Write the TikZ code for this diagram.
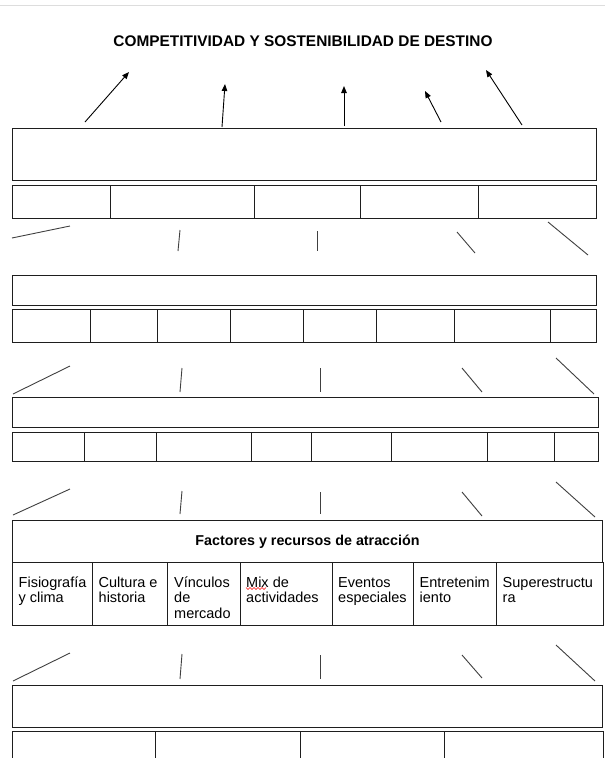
\documentclass[tikz,border=0pt]{standalone}
\usepackage{fontspec}
\setmainfont{Liberation Sans}
\usetikzlibrary{arrows.meta}
\definecolor{boxcol}{HTML}{1E1E1E}
\definecolor{conncol}{HTML}{404040}
\definecolor{rulecol}{HTML}{DDDDDD}
\tikzset{
  bx/.style={draw=boxcol, line width=1.1pt, inner sep=0pt, anchor=north west},
  conn/.style={draw=conncol, line width=0.9pt},
  arr/.style={draw=black, line width=0.9pt, -{Triangle[length=7pt,width=5.5pt]}},
  ctext/.style={anchor=north west, inner sep=0pt, align=left, font=\fontsize{14.5}{15.5}\selectfont},
  ttl/.style={inner sep=0pt, font=\bfseries\fontsize{15.4}{18}\selectfont},
  hdr/.style={inner sep=0pt, font=\bfseries\fontsize{14.3}{17}\selectfont}
}
\newcommand\cellbox[5]{\node[bx, minimum width={#4pt-#2pt}, minimum height={#5pt-#3pt}] (#1) at (#2,#3) {};}
\begin{document}
\begin{tikzpicture}[x=1pt,y=-1pt]
\useasboundingbox (0,0) rectangle (605,758);
\clip (0,0) rectangle (605,758);
\fill[white] (0,0) rectangle (605,758);
% top rule
\coordinate (rl) at (0,5);
\coordinate (rr) at (605,5);
\draw[rulecol, line width=1pt] (rl) -- (rr);
% title
\node[ttl] (title) at (303,41) {COMPETITIVIDAD Y SOSTENIBILIDAD DE DESTINO};
% arrows
\foreach \n/\xa/\ya/\xb/\yb in {1/85/122/129/72, 2/222/127/225/84, 3/344/126/344/86, 4/441/122/425/91, 5/522/125/486/70}{
  \coordinate (at\n) at (\xa,\ya);
  \coordinate (ah\n) at (\xb,\yb);
  \draw[arr] (at\n) -- (ah\n);
}
% row 1
\cellbox{r1}{12}{128}{596}{180}
\foreach \n/\a/\b in {1/12/110, 2/110/254, 3/254/360, 4/360/478, 5/478/596}{
  \cellbox{r1c\n}{\a}{185}{\b}{218}
}
\foreach \n/\xa/\ya/\xb/\yb in {1/12/238/70/226, 2/180/230/178/251, 3/317/231/317/251, 4/457/232/475/253, 5/548/222/588/255}{
  \coordinate (c1s\n) at (\xa,\ya);
  \coordinate (c1e\n) at (\xb,\yb);
  \draw[conn] (c1s\n) -- (c1e\n);
}
% row 2
\cellbox{r2}{12}{275}{596}{305}
\foreach \n/\a/\b in {1/12/90, 2/90/157, 3/157/230, 4/230/303, 5/303/376, 6/376/454, 7/454/550, 8/550/596}{
  \cellbox{r2c\n}{\a}{309}{\b}{342}
}
\foreach \n/\xa/\ya/\xb/\yb in {1/13/394/70/366, 2/182/368/180/392, 3/320/368/320/392, 4/462/368/482/392, 5/556/358/594/394}{
  \coordinate (c2s\n) at (\xa,\ya);
  \coordinate (c2e\n) at (\xb,\yb);
  \draw[conn] (c2s\n) -- (c2e\n);
}
% row 3
\cellbox{r3}{12}{397}{598}{427}
\foreach \n/\a/\b in {1/12/84, 2/84/156, 3/156/251, 4/251/311, 5/311/391, 6/391/487, 7/487/554, 8/554/598}{
  \cellbox{r3c\n}{\a}{432}{\b}{461}
}
\foreach \n/\xa/\ya/\xb/\yb in {1/13/515/70/489, 2/182/491/180/514, 3/320/492/320/514, 4/462/492/482/516, 5/556/482/595/517}{
  \coordinate (c3s\n) at (\xa,\ya);
  \coordinate (c3e\n) at (\xb,\yb);
  \draw[conn] (c3s\n) -- (c3e\n);
}
% row 4
\cellbox{r4}{12}{520}{602}{562}
\node[hdr] (r4t) at (r4.center) {Factores y recursos de atracción};
\foreach \n/\a/\b in {1/12/92, 2/92/167, 3/167/240, 4/240/332, 5/332/413, 6/413/496, 7/496/603}{
  \cellbox{r4c\n}{\a}{562}{\b}{625}
}
\node[ctext] (t1) at ([shift={(6.5,14)}]r4c1.north west) {\strut Fisiografía\\y clima};
\node[ctext] (t2) at ([shift={(6.5,14)}]r4c2.north west) {\strut Cultura e\\historia};
\node[ctext] (t3) at ([shift={(7,14)}]r4c3.north west) {\strut Vínculos\\de\\mercado};
\node[ctext] (t4) at ([shift={(6,14)}]r4c4.north west) {\strut Mix de\\actividades};
\node[ctext] (t5) at ([shift={(6,14)}]r4c5.north west) {\strut Eventos\\especiales};
\node[ctext] (t6) at ([shift={(6.5,14)}]r4c6.north west) {\strut Entretenim\\iento};
\node[ctext] (t7) at ([shift={(6.5,14)}]r4c7.north west) {\strut Superestructu\\ra};
% spell-check squiggle under "Mix"
\draw[red, line width=0.6pt] (246,587.5) -- (248,589.5) -- (250,587.5) -- (252,589.5) -- (254,587.5) -- (256,589.5) -- (258,587.5) -- (260,589.5) -- (262,587.5) -- (264,589.5) -- (266,587.5);
\foreach \n/\xa/\ya/\xb/\yb in {1/13/681/70/653, 2/182/654/180/679, 3/320/655/320/679, 4/462/655/482/678, 5/556/645/595/681}{
  \coordinate (c4s\n) at (\xa,\ya);
  \coordinate (c4e\n) at (\xb,\yb);
  \draw[conn] (c4s\n) -- (c4e\n);
}
% row 5
\cellbox{r5}{12}{685}{602}{727}
\foreach \n/\a/\b in {1/12/155, 2/155/300, 3/300/444, 4/444/603}{
  \cellbox{r5c\n}{\a}{731}{\b}{780}
}
\end{tikzpicture}
\end{document}
